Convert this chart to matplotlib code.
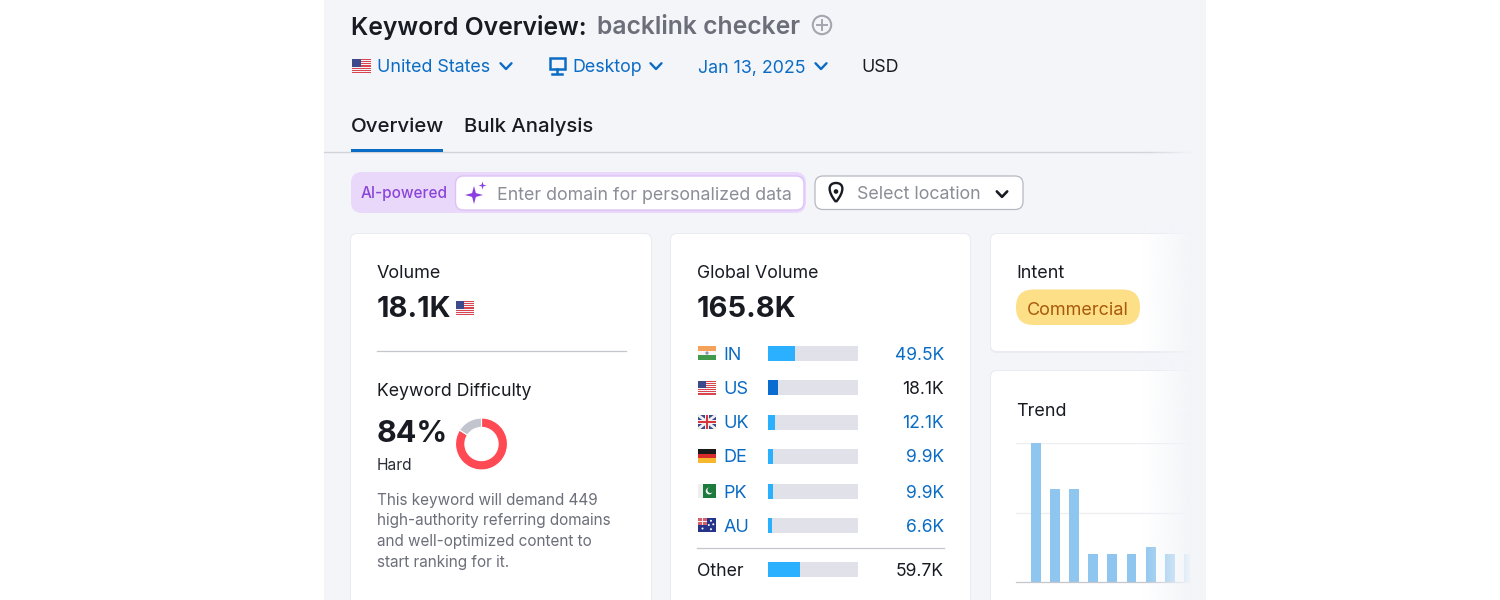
import numpy as np
import matplotlib
matplotlib.use("Agg")
import matplotlib.pyplot as plt
from matplotlib.patches import Rectangle, FancyBboxPatch, Circle, Polygon, PathPatch
from matplotlib.path import Path
from matplotlib.colors import to_rgb

plt.rcParams['font.family'] = ['Inter', 'DejaVu Sans']

countries = ["IN", "US", "UK", "DE", "PK", "AU"]
country_values = [49.5, 18.1, 12.1, 9.9, 9.9, 6.6]
country_labels = ["49.5K", "18.1K", "12.1K", "9.9K", "9.9K", "6.6K"]
other_value = 59.7
other_label = "59.7K"
global_total = 165.8
difficulty = [84, 16]
trend_values = [100, 67, 67, 20, 20, 20, 25, 20, 20]
detail_lines = ["This keyword will demand 449", "high-authority referring domains",
                "and well-optimized content to", "start ranking for it."]

BG = "#f3f5f9"; INK = "#191b23"; GREY = "#6c6e79"; PH = "#8b8d97"; LINK = "#0a6cc4"
LIGHT = "#2bb0ff"; TRACK = "#e0e1e9"

W, H = 1500, 600
fig = plt.figure(figsize=(W/100, H/100), dpi=100, facecolor="white")
ax = fig.add_axes([0, 0, 1, 1]); ax.set_xlim(0, W); ax.set_ylim(H, 0); ax.axis("off")

def pos(x0, y0, x1, y1):
    return [x0/W, 1-y1/H, (x1-x0)/W, (y1-y0)/H]
def T(x, y, s, px, c=INK, w=400, ha="left", z=5):
    return ax.text(x, y, s, fontsize=px*0.72, color=c, fontweight=w, ha=ha, va="center_baseline", zorder=z)
def rbox(x0, y0, x1, y1, r, fc, ec="none", lw=0, z=1):
    p = FancyBboxPatch((x0+r, y0+r), x1-x0-2*r, y1-y0-2*r, boxstyle=f"round,pad={r},rounding_size={r}",
                       fc=fc, ec=ec, lw=lw, zorder=z)
    ax.add_patch(p); return p
def chev(x, y, c=LINK, s=5.5, lw=1.7):
    ax.plot([x-s, x, x+s], [y-s*0.5, y+s*0.55, y-s*0.5], color=c, lw=lw, solid_capstyle="round", solid_joinstyle="round", zorder=5)

def flag(code, x, y, w=20, h=14):
    def R(a, b, c, d, col, z=5):
        ax.add_patch(Rectangle((x+a*w, y+b*h), c*w, d*h, fc=col, ec="none", zorder=z))
    if code == "US":
        R(0, 0, 1, 1, "#f4f4f6")
        for i in range(0, 7):
            R(0, i*2/13, 1, 1/13, "#d8454e")
        R(0, 0, .45, .54, "#3c4a8c", 6)
    elif code == "IN":
        R(0, 0, 1, 1/3, "#f4a259"); R(0, 1/3, 1, 1/3, "#f6f6f6"); R(0, 2/3, 1, 1/3, "#3f9a4b")
        ax.add_patch(Circle((x+w/2, y+h/2), 1.6, fc="#8a8fb0", ec="none", zorder=6))
    elif code == "UK":
        R(0, 0, 1, 1, "#3c4a8c")
        ax.plot([x, x+w], [y, y+h], color="#f0f0f0", lw=2, zorder=6, solid_capstyle="butt")
        ax.plot([x, x+w], [y+h, y], color="#f0f0f0", lw=2, zorder=6, solid_capstyle="butt")
        R(.38, 0, .24, 1, "#f0f0f0", 6); R(0, .36, 1, .28, "#f0f0f0", 6)
        R(.44, 0, .12, 1, "#d8353f", 7); R(0, .42, 1, .16, "#d8353f", 7)
    elif code == "DE":
        R(0, 0, 1, 1/3, "#1a1a1a"); R(0, 1/3, 1, 1/3, "#d92b2b"); R(0, 2/3, 1, 1/3, "#f5b82e")
    elif code == "PK":
        R(0, 0, .25, 1, "#eeeeee"); R(.25, 0, .75, 1, "#1c7a3c")
        ax.add_patch(Circle((x+.62*w, y+h/2), 3.4, fc="#f2f2f2", ec="none", zorder=6))
        ax.add_patch(Circle((x+.69*w, y+h/2-1), 3.0, fc="#1c7a3c", ec="none", zorder=7))
    elif code == "AU":
        R(0, 0, 1, 1, "#24348a")
        R(0, 0, .5, .5, "#d8606a", 6); R(.2, 0, .1, .5, "#f0f0f0", 7); R(0, .2, .5, .12, "#f0f0f0", 7)
        for a, b in [(.25, .75), (.72, .2), (.85, .45), (.6, .5), (.72, .8)]:
            ax.add_patch(Circle((x+a*w, y+b*h), 1.0, fc="white", ec="none", zorder=7))

def sparkle(cx, cy, r, c, z=6):
    t = np.arange(8)*np.pi/4 - np.pi/2
    rr = np.where(np.arange(8) % 2 == 0, r, r*0.3)
    ax.add_patch(Polygon(np.c_[cx+rr*np.cos(t), cy+rr*np.sin(t)], fc=c, ec="none", zorder=z))

# page panel
ax.add_patch(Rectangle((324, 0), 882, 600, fc=BG, ec="none", zorder=0))

# header
T(351, 25, "Keyword Overview:", 24.7, INK, 600)
T(597, 25, "backlink checker", 24.7, GREY, 600)
ax.add_patch(Circle((822, 25), 9.2, fc="none", ec="#a4a6b0", lw=1.5, zorder=5))
ax.plot([817, 827], [25, 25], color="#a4a6b0", lw=1.4, zorder=5); ax.plot([822, 822], [20, 30], color="#a4a6b0", lw=1.4, zorder=5)

flag("US", 352, 59, 19, 14)
T(377, 66, "United States", 17.9, LINK); chev(506, 66)
ax.add_patch(Rectangle((549.5, 57.5), 15, 11, fc="none", ec=LINK, lw=1.8, zorder=5))
ax.plot([557, 557], [69, 73], color=LINK, lw=1.8, zorder=5); ax.plot([552, 562], [74, 74], color=LINK, lw=1.8, zorder=5)
T(572, 66, "Desktop", 17.8, LINK); chev(656, 66)
T(698, 66, "Jan 13, 2025", 17.8, LINK); chev(821, 66)
T(861, 66, "USD", 17.8, INK)

# tabs
T(351, 125, "Overview", 20.5, INK, 500)
T(464, 125, "Bulk Analysis", 20.3, INK, 500)
ax.plot([324, 1192], [151.5, 151.5], color="#d0d3da", lw=1.0, zorder=2)
ax.add_patch(Rectangle((351, 148.5), 92, 3.5, fc=LINK, ec="none", zorder=3))

# AI box
rbox(351, 172, 806, 213, 11, "#ead8fb")
rbox(455.5, 176, 804, 210, 8, "white", "#dcc2f7", 1.0, 2)
T(361, 192, "AI-powered", 15.3, "#8a45d9", 500)
sparkle(474, 195, 9, "#8a3fe0"); sparkle(482.5, 185.5, 4, "#8a3fe0")
T(497, 193.5, "Enter domain for personalized data", 17.8, PH)
rbox(815, 176, 1023, 209.5, 8, "white", "#b6b8c2", 0.9, 2)
ax.add_patch(PathPatch(Path([(836, 202), (827, 191), (828, 183), (836, 183), (844, 183), (845, 191), (836, 202)],
                            [Path.MOVETO]+[Path.CURVE4]*6),
                       fc="white", ec=INK, lw=1.7, zorder=5))
ax.add_patch(Circle((836, 191.5), 2.3, fc=INK, ec="none", zorder=6))
T(857, 192.5, "Select location", 17.8, PH); chev(1002, 194, INK, 5.2, 1.9)

# cards
for x0, y0, x1, y1 in [(351, 234, 651, 640), (671, 234, 970, 640), (991, 234, 1200, 351), (991, 371, 1200, 640)]:
    rbox(x0-1, y0-1, x1+1, y1+2, 7, "#e9ebf1", z=1)
    rbox(x0, y0, x1, y1, 6, "white", z=1.5)

# volume card
T(377, 272, "Volume", 18, INK)
T(377, 306.5, "18.1K", 29, INK, 700)
flag("US", 456, 301, 18, 14)
ax.plot([377, 625.5], [351, 351], color="#c4c6ce", lw=0.9, zorder=3)
T(377, 390, "Keyword Difficulty", 17.7, INK)
T(377, 430.5, "84%", 30.5, INK, 700)
T(377, 463.5, "Hard", 15.5, "#2a2c35")
for i, ln in enumerate(detail_lines):
    T(377, 499+i*20.5, ln, 15.3, GREY)
dax = fig.add_axes(pos(455, 417.5, 508, 470.5)); dax.set_zorder(3)
dax.pie(difficulty, colors=["#ff4953", "#c2c5cd"], startangle=90, counterclock=False, radius=1.0,
        wedgeprops=dict(width=0.36, edgecolor="white", linewidth=0.8))
dax.set_xlim(-1.02, 1.02); dax.set_ylim(-1.02, 1.02)

# global volume card
T(697, 272, "Global Volume", 17.7, INK)
T(696.5, 306.5, "165.8K", 29, INK, 700)
row_y = [353, 387.5, 422, 456, 491, 525]
other_y = 569.5
bax = fig.add_axes(pos(768, 0, 858, 600)); bax.set_zorder(3); bax.patch.set_alpha(0); bax.axis("off")
bax.set_xlim(0, global_total); bax.set_ylim(600, 0)
all_y = row_y + [other_y]
bax.barh(all_y, [global_total]*7, height=15, color=TRACK, zorder=1)
bax.barh(all_y, country_values + [other_value], height=15,
         color=[LIGHT, "#0a6cd0", LIGHT, LIGHT, LIGHT, LIGHT, LIGHT], zorder=2)
for c, v, y in zip(countries, country_labels, row_y):
    flag(c, 698, y-7, 18, 14)
    T(723.5, y, c, 18, LINK)
    T(944, y, v, 17.5, INK if c == "US" else LINK, ha="right")
ax.plot([697, 944], [547.5, 547.5], color="#c4c6ce", lw=0.9, zorder=3)
T(697, other_y, "Other", 17.7, INK)
T(944, other_y, other_label, 17.5, INK, ha="right")

# intent
T(1016, 272, "Intent", 18, INK)
rbox(1016, 289.5, 1140, 325, 17.5, "#fcdf86", z=3)
T(1078, 308.5, "Commercial", 18, "#a8590c", ha="center")

# trend
T(1016, 409, "Trend", 18, INK)
tax = fig.add_axes(pos(1016, 443, 1190, 582)); tax.set_zorder(3); tax.patch.set_alpha(0)
tax.set_xlim(-1.047, 8.063); tax.set_ylim(0, 100)
for s in tax.spines.values(): s.set_visible(False)
tax.spines["bottom"].set_visible(True); tax.spines["bottom"].set_color("#c4c6ce"); tax.spines["bottom"].set_linewidth(0.9)
tax.set_xticks([]); tax.set_yticks([50, 100]); tax.tick_params(length=0, labelleft=False)
tax.grid(axis="y", color="#eceef2", lw=0.9); tax.set_axisbelow(True)
tax.bar(range(len(trend_values)), trend_values, width=0.52, color="#8fc6ef", zorder=2, clip_on=True)

# right fade over the cards and the tab rule
rgb = to_rgb(BG)
grad = np.zeros((1, 256, 4)); grad[..., :3] = rgb; grad[..., 3] = np.linspace(0, 1, 256)**1.2
ov = fig.add_axes(pos(1140, 225, 1192, 600)); ov.set_zorder(8); ov.axis("off")
ov.imshow(grad, aspect="auto", extent=[0, 1, 0, 1]); ov.set_xlim(0, 1); ov.set_ylim(0, 1)
ov2 = fig.add_axes(pos(1140, 148, 1192, 155)); ov2.set_zorder(8); ov2.axis("off")
ov2.imshow(grad, aspect="auto", extent=[0, 1, 0, 1]); ov2.set_xlim(0, 1); ov2.set_ylim(0, 1)
cov = fig.add_axes(pos(1191.5, 140, 1206, 600)); cov.set_zorder(9); cov.axis("off")
cov.add_patch(Rectangle((0, 0), 1, 1, fc=BG, ec="none", transform=cov.transAxes))

fig.savefig("out.png", dpi=100, facecolor="white")
